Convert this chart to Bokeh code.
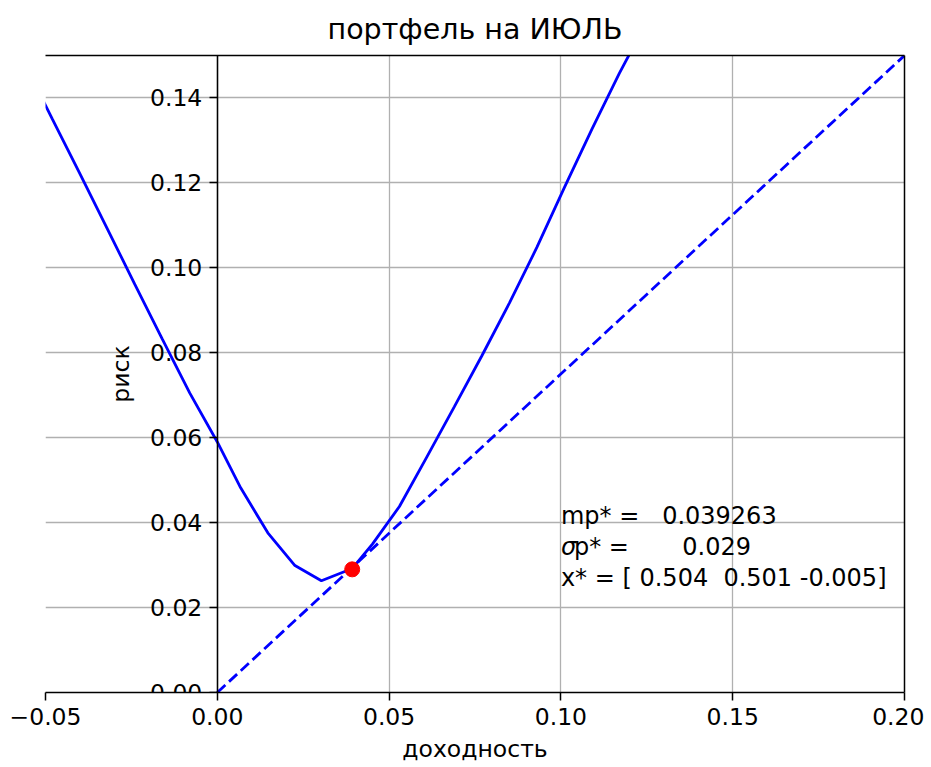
from bokeh.plotting import figure
from bokeh.models import Range1d, FixedTicker, LinearAxis
from bokeh.embed import file_html
from bokeh.resources import INLINE
from bokeh.core.properties import value

# efficient frontier (return, risk)
returns = [-0.0560, -0.0480, -0.0400, -0.0320, -0.0240, -0.0160, -0.0080, 0.0000,
           0.0068, 0.0147, 0.0226, 0.0303, 0.0393, 0.0452, 0.0530, 0.0610,
           0.0690, 0.0770, 0.0850, 0.0930, 0.1010, 0.1090, 0.1170, 0.1250]
risks = [0.1480, 0.1350, 0.1222, 0.1092, 0.0961, 0.0832, 0.0705, 0.0590,
         0.0482, 0.0376, 0.0299, 0.0263, 0.0292, 0.0350, 0.0438, 0.0555,
         0.0673, 0.0793, 0.0917, 0.1048, 0.1189, 0.1326, 0.1458, 0.1580]

# tangent line from origin
cml_returns = [0.0, 0.2]
cml_risks = [0.0, 0.15]

# optimal portfolio
opt_return = [0.039263]
opt_risk = [0.029]

x_ticks = [-0.05, 0.0, 0.05, 0.10, 0.15, 0.20]
x_tick_labels = ["\u22120.05", "0.00", "0.05", "0.10", "0.15", "0.20"]
y_ticks = [0.0, 0.02, 0.04, 0.06, 0.08, 0.10, 0.12, 0.14]
y_tick_labels = ["0.00", "0.02", "0.04", "0.06", "0.08", "0.10", "0.12", "0.14"]

ann_x = 0.1
ann_y = 0.025
ann_sigma = "\u03c3"
ann_lines = ["mp* =   0.039263", "p* =       0.029", "x* = [ 0.504  0.501 -0.005]"]

FONT = "DejaVu Sans"
FS = "23.5px"

NB = "\u00a0"  # keep runs of spaces


def keep_spaces(s):
    return s.replace(" ", NB)


p = figure(width=924, height=766,
           x_range=Range1d(-0.05, 0.2), y_range=Range1d(0.0, 0.15),
           output_backend="svg", toolbar_location=None,
           min_border_left=45, min_border_right=20,
           min_border_top=54, min_border_bottom=74,
           title="портфель на ИЮЛЬ")
p.outline_line_color = None
p.background_fill_color = "white"
p.border_fill_color = "white"

p.title.align = "center"
p.title.text_font = FONT
p.title.text_font_size = "28.5px"
p.title.text_font_style = "normal"
p.title.text_color = "black"
p.title.standoff = 20

# grid
p.xgrid.ticker = FixedTicker(ticks=x_ticks)
p.ygrid.ticker = FixedTicker(ticks=y_ticks)
for g in (p.xgrid, p.ygrid):
    g.grid_line_color = "#b0b0b0"
    g.grid_line_width = 1.3

# x axis
xa = p.xaxis[0]
xa.ticker = FixedTicker(ticks=x_ticks)
xa.major_label_overrides = {t: l for t, l in zip(x_ticks, x_tick_labels)}
xa.axis_label = "доходность"

# y axis at x = 0
ya = p.yaxis[0]
ya.ticker = FixedTicker(ticks=y_ticks)
ya.major_label_overrides = {t: l for t, l in zip(y_ticks, y_tick_labels)}
ya.axis_label = "риск"
ya.fixed_location = 0.0

for ax in (xa, ya):
    ax.axis_line_color = "black"
    ax.axis_line_width = 1.5
    ax.major_tick_line_color = "black"
    ax.major_tick_line_width = 1.5
    ax.major_tick_out = 8
    ax.major_tick_in = 0
    ax.minor_tick_line_color = None
    ax.major_label_text_font = FONT
    ax.major_label_text_font_size = FS
    ax.major_label_text_color = "black"
    ax.major_label_standoff = 7
    ax.axis_label_text_font = FONT
    ax.axis_label_text_font_size = FS
    ax.axis_label_text_font_style = "normal"
    ax.axis_label_text_color = "black"
xa.axis_label_standoff = 7
ya.axis_label_standoff = 12

# top and right spines
for loc in ("above", "right"):
    sp = LinearAxis(ticker=FixedTicker(ticks=[]))
    sp.axis_line_color = "black"
    sp.axis_line_width = 1.5
    sp.major_tick_out = 0
    sp.major_tick_in = 0
    sp.minor_tick_line_color = None
    sp.major_label_text_font_size = "0px"
    p.add_layout(sp, loc)

p.line(returns, risks, line_color="#0000ff", line_width=2.8)
p.line(cml_returns, cml_risks, line_color="#0000ff", line_width=2.8, line_dash="11 5")
p.scatter(opt_return, opt_risk, size=15, fill_color="#ff0000", line_color="#ff0000")

# annotation (three lines, anchored at the baseline of the last one)
line_gap = 31
common = dict(text_font=value(FONT), text_font_size="24px", text_color="black",
              text_align="left", text_baseline="middle")
p.text(x=[ann_x], y=[ann_y], text=[keep_spaces(ann_lines[0])], y_offset=-8 - 2 * line_gap, **common)
p.text(x=[ann_x], y=[ann_y], text=[ann_sigma], y_offset=-8 - line_gap,
       text_font_style="italic", **common)
p.text(x=[ann_x], y=[ann_y], text=[keep_spaces(ann_lines[1])], y_offset=-8 - line_gap, x_offset=13, **common)
p.text(x=[ann_x], y=[ann_y], text=[keep_spaces(ann_lines[2])], y_offset=-8, **common)

open("out.html", "w").write(file_html(p, INLINE))
